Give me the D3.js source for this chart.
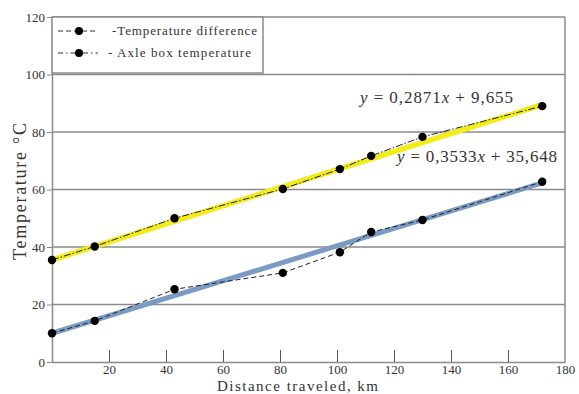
<!DOCTYPE html>
<html>
<head>
<meta charset="utf-8">
<script src="https://cdn.jsdelivr.net/npm/d3@7"></script>
<style>
  body { margin: 0; background: #fff; }
  text { font-family: "Liberation Serif", "Times New Roman", "DejaVu Serif", serif; fill: #333; }
</style>
</head>
<body>
<svg id="chart" width="579" height="394"></svg>
<script>
// distance (km) and temperature (°C)
var distance = [0, 15, 43, 81, 101, 112, 130, 172];
var axleBox = [35.5, 40.2, 50, 60.2, 67.1, 71.7, 78.3, 89];
var tempDiff = [10, 14.3, 25.3, 31, 38.2, 45.2, 49.4, 62.7];

// fitted lines, as end points
var axleFit = [[0, 35.5], [172, 89.5]];
var diffFit = [[0, 10], [172, 62.3]];

var xTicks = [20, 40, 60, 80, 100, 120, 140, 160, 180];
var yTicks = [0, 20, 40, 60, 80, 100, 120];

var axleEq = "y = 0,2871x + 9,655";
var diffEq = "y = 0,3533x + 35,648";

var serif = "'Liberation Serif', 'Times New Roman', 'DejaVu Serif', serif";

var svg = d3.select("#chart");
var margin = { left: 52, right: 14, top: 17, bottom: 32 };
var W = 579, H = 394;

var x = d3.scaleLinear().domain([0, 180]).range([margin.left, W - margin.right]);
var y = d3.scaleLinear().domain([0, 120]).range([H - margin.bottom, margin.top]);

var grey = "#8a8a8a";

// grid lines
svg.append("g")
	.selectAll("line")
	.data(yTicks.filter(function(d) { return d > 0; }))
	.enter().append("line")
	.attr("x1", x(0)).attr("x2", x(180))
	.attr("y1", function(d) { return y(d); })
	.attr("y2", function(d) { return y(d); })
	.attr("stroke", grey).attr("stroke-width", 1.5);

// right border
svg.append("line")
	.attr("x1", x(180)).attr("x2", x(180))
	.attr("y1", y(0)).attr("y2", y(120))
	.attr("stroke", grey).attr("stroke-width", 1.5);

// x axis, ticks pointing up into the plot
var xAxis = svg.append("g")
	.attr("transform", "translate(0," + y(0) + ")")
	.call(d3.axisBottom(x).tickValues(xTicks).tickSizeInner(-12).tickSizeOuter(0).tickPadding(3));
xAxis.attr("font-family", serif).attr("font-size", 13);
xAxis.select(".domain").attr("stroke", grey).attr("stroke-width", 1.5);
xAxis.selectAll(".tick line").attr("stroke", "#555");
xAxis.selectAll(".tick").filter(function(d) { return d === 180; }).select("line").remove();
xAxis.selectAll(".tick text").attr("fill", "#333");

var yAxis = svg.append("g")
	.attr("transform", "translate(" + x(0) + ",0)")
	.call(d3.axisLeft(y).tickValues(yTicks).tickSizeInner(5).tickSizeOuter(0).tickPadding(2));
yAxis.attr("font-family", serif).attr("font-size", 13);
yAxis.select(".domain").attr("stroke", grey).attr("stroke-width", 1.5);
yAxis.selectAll(".tick line").attr("stroke", grey);
yAxis.selectAll(".tick text").attr("fill", "#333");

// fitted lines
var fitLine = d3.line()
	.x(function(d) { return x(d[0]); })
	.y(function(d) { return y(d[1]); });

svg.append("path").datum(axleFit).attr("d", fitLine)
	.attr("fill", "none").attr("stroke", "#f2ec1c").attr("stroke-width", 5.5);
svg.append("path").datum(diffFit).attr("d", fitLine)
	.attr("fill", "none").attr("stroke", "#7b9ac4").attr("stroke-width", 5);

// measured series
var series = [
	{ name: "axle", values: axleBox, dash: "7,2,1.5,2" },
	{ name: "diff", values: tempDiff, dash: "5,3" }
];

var dataLine = d3.line()
	.x(function(d, i) { return x(distance[i]); })
	.y(function(d) { return y(d); });

series.forEach(function(s) {
	svg.append("path").datum(s.values).attr("d", dataLine)
		.attr("fill", "none").attr("stroke", "#222").attr("stroke-width", 1)
		.attr("stroke-dasharray", s.dash);
	svg.append("g").selectAll("circle")
		.data(s.values)
		.enter().append("circle")
		.attr("cx", function(d, i) { return x(distance[i]); })
		.attr("cy", function(d) { return y(d); })
		.attr("r", 4.2)
		.attr("fill", "#000");
});

// equations, stretched to the width they have in the picture
function equation(str, px, py, len) {
	var t = svg.append("text").attr("x", px).attr("y", py)
		.attr("textLength", len).attr("lengthAdjust", "spacing")
		.style("font-size", "17px").attr("fill", "#222");
	str.split(/([xy])/).forEach(function(part) {
		if (!part) return;
		var sp = t.append("tspan").text(part);
		if (part === "x" || part === "y") sp.style("font-style", "italic");
	});
}
equation(axleEq, 360, 103, 153);
equation(diffEq, 397, 162, 160);

// legend
var legend = svg.append("g");
legend.append("rect")
	.attr("x", x(0)).attr("y", y(120))
	.attr("width", 211).attr("height", 56)
	.attr("fill", "#fff").attr("stroke", grey).attr("stroke-width", 1.5);

var legendRows = [
	{ label: "-Temperature difference", dash: "5,3", ly: 31, tx: 112, len: 145 },
	{ label: "- Axle box temperature", dash: "5,3,1.5,3", ly: 53, tx: 108, len: 143 }
];
legendRows.forEach(function(r) {
	legend.append("line")
		.attr("x1", 58).attr("x2", 98).attr("y1", r.ly).attr("y2", r.ly)
		.attr("stroke", "#333").attr("stroke-width", 1).attr("stroke-dasharray", r.dash);
	legend.append("circle").attr("cx", 79).attr("cy", r.ly).attr("r", 4).attr("fill", "#000");
	legend.append("text").attr("x", r.tx).attr("y", r.ly + 4)
		.attr("textLength", r.len).attr("lengthAdjust", "spacing")
		.style("font-size", "13px")
		.text(r.label);
});

// axis titles
svg.append("text")
	.attr("x", 217).attr("y", 391)
	.attr("textLength", 161).attr("lengthAdjust", "spacing")
	.style("font-size", "15px")
	.text("Distance traveled, km");

svg.append("text")
	.attr("transform", "translate(26,260) rotate(-90)")
	.attr("textLength", 137).attr("lengthAdjust", "spacing")
	.style("font-size", "18px")
	.text("Temperature  °C");
</script>
</body>
</html>
